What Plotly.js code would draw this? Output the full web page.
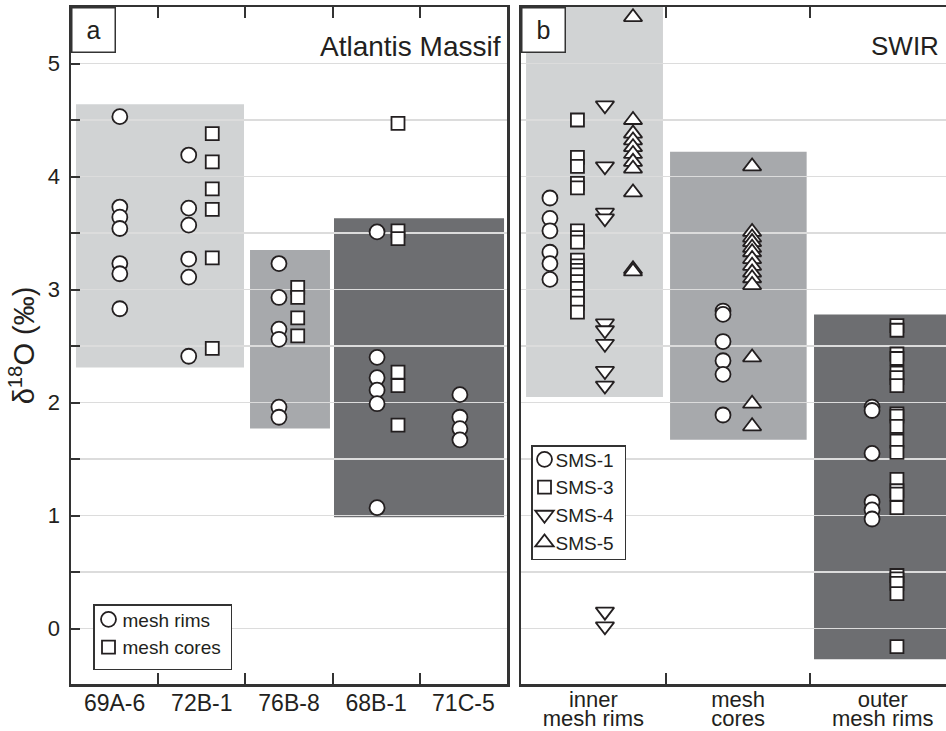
<!DOCTYPE html>
<html>
<head>
<meta charset="utf-8">
<script src="https://cdn.plot.ly/plotly-3.0.1.min.js"></script>
<style>
  html, body { margin: 0; padding: 0; background: #fff; overflow: hidden; }
  #chart { width: 946px; height: 731px; }
</style>
</head>
<body>
<div id="chart"></div>
<script>
// ---------- Panel a: Atlantis Massif ----------
const catsA = ['69A-6', '72B-1', '76B-8', '68B-1', '71C-5'];
const rims69A6 = [4.53, 3.73, 3.64, 3.54, 3.23, 3.14, 2.83];
const cores69A6 = [];
const rims72B1 = [4.19, 3.72, 3.57, 3.27, 3.11, 2.41];
const cores72B1 = [4.38, 4.13, 3.89, 3.71, 3.28, 2.48];
const rims76B8 = [3.23, 2.93, 2.65, 2.56, 1.96, 1.87];
const cores76B8 = [3.02, 2.93, 2.75, 2.59];
const rims68B1 = [3.51, 2.40, 2.22, 2.11, 1.99, 1.07];
const cores68B1 = [4.47, 3.52, 3.45, 2.27, 2.15, 1.80];
const rims71C5 = [2.07, 1.87, 1.77, 1.67];
const cores71C5 = [];
// shaded value ranges (light, medium, dark)
const bandLowA = [2.31, 1.77, 0.985];
const bandHighA = [4.64, 3.35, 3.63];

// ---------- Panel b: SWIR ----------
const catsB = ['inner<br>mesh rims', 'mesh<br>cores', 'outer<br>mesh rims'];
const sms1Inner = [3.81, 3.63, 3.52, 3.33, 3.23, 3.09];
const sms3Inner = [4.50, 4.17, 4.09, 3.94, 3.90, 3.52, 3.46, 3.42, 3.26, 3.21, 3.17, 3.13, 3.07, 3.01, 2.94, 2.88, 2.80];
const sms4Inner = [4.63, 4.09, 3.68, 3.63, 2.70, 2.64, 2.52, 2.28, 2.15, 0.15, 0.02];
const sms5Inner = [5.41, 4.50, 4.38, 4.32, 4.26, 4.20, 4.13, 4.07, 3.86, 3.18, 3.16];
const sms1Cores = [2.81, 2.78, 2.54, 2.37, 2.25, 1.89];
const sms5Cores = [4.09, 3.51, 3.46, 3.42, 3.37, 3.33, 3.27, 3.21, 3.15, 3.10, 3.04, 2.40, 1.99, 1.79];
const sms1Outer = [1.96, 1.93, 1.55, 1.12, 1.05, 0.97];
const sms3Outer = [2.68, 2.64, 2.43, 2.39, 2.26, 2.22, 2.15, 1.90, 1.88, 1.79, 1.66, 1.56, 1.32, 1.22, 1.19, 1.07, 0.47, 0.44, 0.40, 0.31, -0.16];
const bandLowB = [2.05, 1.67, -0.27];
const bandHighB = [5.6, 4.22, 2.78];

// ---------- layout helpers (positions / styles) ----------
const rimsByCat = [rims69A6, rims72B1, rims76B8, rims68B1, rims71C5];
const coresByCat = [cores69A6, cores72B1, cores76B8, cores68B1, cores71C5];
const rimOffset = [0.06, -0.15, -0.115, 0.01, -0.04];
const coreOffset = [0, 0.12, 0.10, 0.25, 0];
const bandColors = ['#d1d3d4', '#a7a9ac', '#6d6e71'];
const bandXA = [[0.557, 2.484], [2.553, 3.470], [3.516, 5.466]];
const bandXB = [[0.535, 1.481], [1.530, 2.474], [2.525, 3.6]];

const FONT = 'Liberation Sans, Arial, Helvetica, sans-serif';
const INK = '#231f20';
const FRAME = '#333333';
const GRID = '#dcdcdc';

function mk(symbol, size) {
  return { symbol: symbol, size: size, color: '#ffffff', line: { color: INK, width: 1.8 } };
}
function spread(groups, offsets) {
  const xs = [], ys = [];
  groups.forEach((vals, i) => {
    vals.forEach(v => { xs.push(i + 1 + offsets[i]); ys.push(v); });
  });
  return { x: xs, y: ys };
}

const rimsXY = spread(rimsByCat, rimOffset);
const coresXY = spread(coresByCat, coreOffset);

// panel b: category index 0 inner, 1 cores, 2 outer
const s1 = spread([sms1Inner, sms1Cores, sms1Outer], [-0.30, -0.104, -0.074]);
const s3 = spread([sms3Inner, [], sms3Outer], [-0.11, 0, 0.098]);
const s4 = spread([sms4Inner, [], []], [0.08, 0, 0]);
const s5 = spread([sms5Inner, sms5Cores, []], [0.274, 0.097, 0]);

const traces = [
  { type: 'scatter', mode: 'markers', name: 'mesh rims', x: rimsXY.x, y: rimsXY.y,
    xaxis: 'x', yaxis: 'y', marker: mk('circle', 15), legend: 'legend', hoverinfo: 'y' },
  { type: 'scatter', mode: 'markers', name: 'mesh cores', x: coresXY.x, y: coresXY.y,
    xaxis: 'x', yaxis: 'y', marker: mk('square', 13), legend: 'legend', hoverinfo: 'y' },
  { type: 'scatter', mode: 'markers', name: 'SMS-1', x: s1.x, y: s1.y,
    xaxis: 'x2', yaxis: 'y2', marker: mk('circle', 15), legend: 'legend2', hoverinfo: 'y' },
  { type: 'scatter', mode: 'markers', name: 'SMS-3', x: s3.x, y: s3.y,
    xaxis: 'x2', yaxis: 'y2', marker: mk('square', 13), legend: 'legend2', hoverinfo: 'y' },
  { type: 'scatter', mode: 'markers', name: 'SMS-4', x: s4.x, y: s4.y,
    xaxis: 'x2', yaxis: 'y2', marker: mk('triangle-down', 16), legend: 'legend2', hoverinfo: 'y' },
  { type: 'scatter', mode: 'markers', name: 'SMS-5', x: s5.x, y: s5.y,
    xaxis: 'x2', yaxis: 'y2', marker: mk('triangle-up', 16), legend: 'legend2', hoverinfo: 'y' }
];

const shapes = [];
bandColors.forEach((c, i) => {
  shapes.push({ type: 'rect', xref: 'x', yref: 'y', layer: 'below',
    x0: bandXA[i][0], x1: bandXA[i][1], y0: bandLowA[i], y1: bandHighA[i],
    fillcolor: c, line: { width: 0 } });
  shapes.push({ type: 'rect', xref: 'x2', yref: 'y2', layer: 'below',
    x0: bandXB[i][0], x1: bandXB[i][1], y0: bandLowB[i], y1: bandHighB[i],
    fillcolor: c, line: { width: 0 } });
});

const W = 946, H = 731, ML = 71, MR = 0, MT = 7, MB = 47;
const PW = W - ML - MR;
const px = v => (v - ML) / PW;           // page x -> paper x
const py = v => (H - MB - v) / (H - MT - MB); // page y -> paper y

const yRange = [-0.49, 5.5];
const axisLine = { showline: true, linecolor: FRAME, linewidth: 2.5, zeroline: false };

const layout = {
  width: W, height: H,
  margin: { l: ML, r: MR, t: MT, b: MB, pad: 0 },
  paper_bgcolor: '#ffffff', plot_bgcolor: '#ffffff',
  font: { family: FONT, color: INK, size: 20 },
  showlegend: true,
  xaxis: Object.assign({}, axisLine, {
    domain: [0, px(507)], range: [0.5, 5.5], anchor: 'y', mirror: 'ticks',
    tickmode: 'array', tickvals: [1, 2, 3, 4, 5], ticktext: catsA,
    ticks: '', showgrid: false, ticklabelstandoff: -3,
    tickfont: { family: FONT, size: 23, color: INK },
    minor: { tickvals: [1.5, 2.5, 3.5, 4.5], ticks: 'inside', ticklen: 11, tickwidth: 2, tickcolor: FRAME, showgrid: false }
  }),
  yaxis: Object.assign({}, axisLine, {
    domain: [0, 1], range: yRange, anchor: 'x', mirror: true,
    tickmode: 'linear', tick0: 0, dtick: 1,
    ticks: 'inside', ticklen: 9, tickwidth: 2, tickcolor: FRAME,
    showgrid: true, gridcolor: GRID, gridwidth: 1.5, ticklabelstandoff: 4,
    tickfont: { family: FONT, size: 22, color: INK },
    minor: { tick0: 0, dtick: 0.5, ticks: 'inside', ticklen: 9, tickwidth: 2, tickcolor: FRAME,
             showgrid: true, gridcolor: GRID, gridwidth: 1.5 },
    title: { text: 'δ<sup>18</sup>O (‰)', font: { family: FONT, size: 29, color: INK }, standoff: 5 }
  }),
  xaxis2: Object.assign({}, axisLine, {
    domain: [px(521), 1], range: [0.5, 3.437], anchor: 'y2', mirror: 'ticks',
    tickmode: 'array', tickvals: [1, 2, 3], ticktext: catsB,
    ticks: '', showgrid: false, ticklabelstandoff: -6,
    tickfont: { family: FONT, size: 22, color: INK },
    minor: { tickvals: [1.5, 2.5], ticks: 'inside', ticklen: 11, tickwidth: 2, tickcolor: FRAME, showgrid: false }
  }),
  yaxis2: Object.assign({}, axisLine, {
    domain: [0, 1], range: yRange, anchor: 'x2', mirror: false,
    tickmode: 'linear', tick0: 0, dtick: 1, ticks: '', showticklabels: false,
    showgrid: true, gridcolor: GRID, gridwidth: 1.5,
    minor: { tick0: 0, dtick: 0.5, showgrid: true, gridcolor: GRID, gridwidth: 1.5 }
  }),
  legend: {
    x: px(93), y: py(604), xanchor: 'left', yanchor: 'top',
    bgcolor: '#ffffff', bordercolor: FRAME, borderwidth: 1.5,
    font: { family: FONT, size: 19, color: INK }, tracegroupgap: 0, itemwidth: 30
  },
  legend2: {
    x: px(531), y: py(445), xanchor: 'left', yanchor: 'top',
    bgcolor: '#ffffff', bordercolor: FRAME, borderwidth: 1.5,
    font: { family: FONT, size: 19, color: INK }, tracegroupgap: 0, itemwidth: 30
  },
  shapes: shapes,
  annotations: [
    { text: 'a', xref: 'paper', yref: 'paper', x: 0, y: 1, xanchor: 'left', yanchor: 'top',
      showarrow: false, width: 40, height: 41, bgcolor: '#ffffff', bordercolor: FRAME, borderwidth: 1.5,
      font: { family: FONT, size: 25, color: INK } },
    { text: 'b', xref: 'paper', yref: 'paper', x: px(521), y: 1, xanchor: 'left', yanchor: 'top',
      showarrow: false, width: 40, height: 41, bgcolor: '#ffffff', bordercolor: FRAME, borderwidth: 1.5,
      font: { family: FONT, size: 25, color: INK } },
    { text: 'Atlantis Massif', xref: 'paper', yref: 'paper', x: px(503), y: py(46),
      xanchor: 'right', yanchor: 'middle', showarrow: false,
      font: { family: FONT, size: 28, color: INK } },
    { text: 'SWIR', xref: 'paper', yref: 'paper', x: px(941), y: py(46),
      xanchor: 'right', yanchor: 'middle', showarrow: false,
      font: { family: FONT, size: 26, color: INK } }
  ]
};

// per-legend compaction (symbol shift, text shift, width, item shift, height)
const legendTweaks = {
  legend:  { sym: -6, txt: -12, w: -8,  dy: -5, h: -3 },
  legend2: { sym: -8, txt: -17, w: -12, dy: -6, h: -9 }
};

function parseTranslate(tr) {
  const m = /translate\(\s*([-\d.e]+)[ ,]+([-\d.e]+)\s*\)/.exec(tr || '');
  return m ? [parseFloat(m[1]), parseFloat(m[2])] : null;
}

function tweak(gd) {
  // tighten the line spacing of the two-line category labels of panel b
  gd.querySelectorAll('.x2tick text').forEach(t => {
    t.querySelectorAll('tspan.line').forEach((ln, i) => { if (i > 0) ln.setAttribute('dy', '0.88em'); });
  });
  // compact legends: symbol closer to the frame, text closer to the symbol
  Object.keys(legendTweaks).forEach(cls => {
    const cfg = legendTweaks[cls];
    gd.querySelectorAll('g.' + cls).forEach(lg => {
      if (lg.getAttribute('data-tweaked')) return;
      lg.setAttribute('data-tweaked', '1');
      lg.querySelectorAll('path.scatterpts').forEach(p => {
        const t = parseTranslate(p.getAttribute('transform'));
        if (t) p.setAttribute('transform', 'translate(' + (t[0] + cfg.sym) + ',' + t[1] + ')');
      });
      lg.querySelectorAll('g.traces text').forEach(t => {
        t.setAttribute('transform', 'translate(' + cfg.txt + ',0)');
      });
      lg.querySelectorAll('g.traces').forEach(g => {
        const t = parseTranslate(g.getAttribute('transform'));
        if (t) g.setAttribute('transform', 'translate(' + t[0] + ',' + (t[1] + cfg.dy) + ')');
      });
      const bg = lg.querySelector('rect.bg');
      if (bg) {
        bg.setAttribute('width', parseFloat(bg.getAttribute('width')) + cfg.w);
        bg.setAttribute('height', parseFloat(bg.getAttribute('height')) + cfg.h);
      }
    });
  });
}

Plotly.newPlot('chart', traces, layout, { displayModeBar: false, staticPlot: true }).then(gd => {
  try { tweak(gd); } catch (e) { /* keep default layout */ }
});
</script>
</body>
</html>
